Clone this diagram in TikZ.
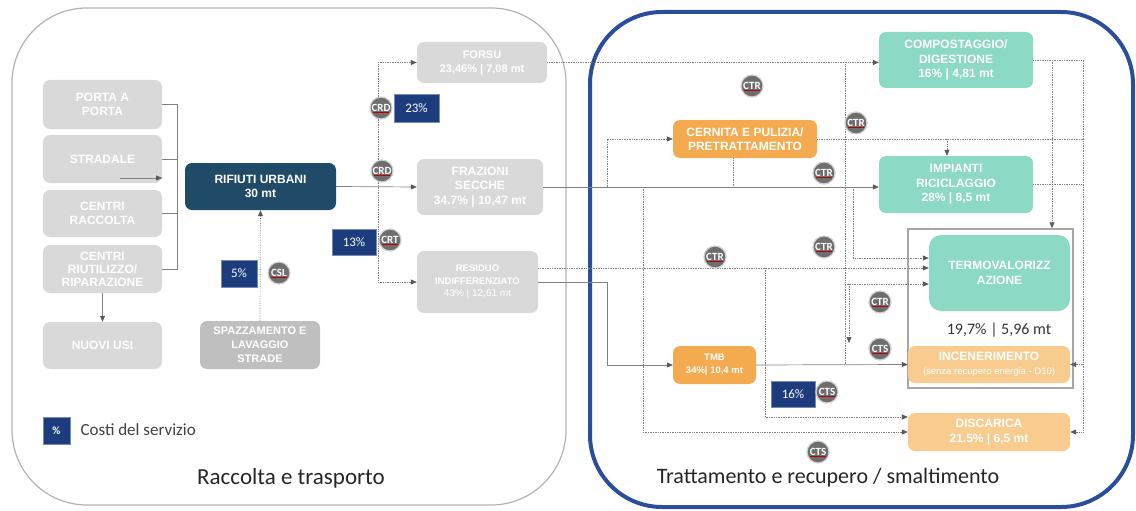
\documentclass[tikz,border=0pt]{standalone}
\usepackage{fontspec}
\setmainfont{Liberation Sans}
\newfontfamily\calib{Carlito}
\usetikzlibrary{arrows.meta}
\definecolor{boxgray}{RGB}{217,217,217}
\definecolor{boxdark}{RGB}{191,191,191}
\definecolor{urbani}{RGB}{31,74,104}
\definecolor{costo}{RGB}{28,60,125}
\definecolor{tagfill}{RGB}{110,110,110}
\definecolor{menta}{RGB}{140,217,197}
\definecolor{arancio}{RGB}{244,170,78}
\definecolor{pesca}{RGB}{248,203,142}
\definecolor{cornice}{RGB}{43,78,154}
\definecolor{filo}{RGB}{128,128,128}

\begin{document}
\begin{tikzpicture}[x=1pt,y=-1pt,
  blocco/.style={rounded corners=7pt, text=white, align=center, inner sep=0pt, font=\bfseries\fontsize{12}{14.5}\selectfont},
  pct/.style={fill=costo, draw=costo!60, text=white, inner sep=0pt, font=\calib\fontsize{13}{13}\selectfont},
  sigla/.style={circle, fill=tagfill, draw=gray!35, line width=1.2pt, minimum size=22pt, inner sep=0pt, text=white, font=\calib\bfseries\fontsize{11}{11}\selectfont,
    path picture={\draw[red!75!black, line width=0.7pt] ([xshift=-8pt,yshift=-4.5pt]path picture bounding box.center) -- ++(16pt,0pt);}},
  flow/.style={filo, densely dotted, line width=0.7pt},
  link/.style={filo, line width=0.7pt},
  arrowed/.style={-{Triangle[length=6pt,width=5pt,color=black!65]}}]

\useasboundingbox (0,0) rectangle (1136,511);
\draw[gray!60, line width=1.2pt, rounded corners=75pt] (12,8) rectangle (566,505);
\draw[cornice, line width=4pt, rounded corners=72pt] (590,12) rectangle (1133,507);

\node[blocco, fill=boxgray, minimum width=119pt, minimum height=49pt] (porta) at (102.5,104.5) {PORTA A\\PORTA};
\node[blocco, fill=boxgray, minimum width=119pt, minimum height=48pt] (stradale) at (102.5,159) {STRADALE};
\node[blocco, fill=boxgray, minimum width=119pt, minimum height=47pt] (raccolta) at (102.5,213.5) {CENTRI\\RACCOLTA};
\node[blocco, fill=boxgray, minimum width=119pt, minimum height=48pt, font=\bfseries\fontsize{12}{13}\selectfont] (riutilizzo) at (102.5,269) {CENTRI\\RIUTILIZZO/\\RIPARAZIONE};
\node[blocco, fill=boxgray, minimum width=119pt, minimum height=47pt] (nuovi) at (102.5,345.5) {NUOVI USI};
\node[blocco, fill=urbani, minimum width=151pt, minimum height=47pt] (urbani) at (260.5,186.5) {RIFIUTI URBANI\\30 mt};
\node[blocco, fill=boxdark, minimum width=120pt, minimum height=48pt, font=\bfseries\fontsize{11}{14}\selectfont] (spazzamento) at (260,345) {SPAZZAMENTO E\\LAVAGGIO\\STRADE};
\node[blocco, fill=boxgray, minimum width=130pt, minimum height=41pt, font=\bfseries\fontsize{11}{14}\selectfont] (forsu) at (482,62.5) {FORSU\\23,46\% | 7,08 mt};
\node[blocco, fill=boxgray, minimum width=126pt, minimum height=56pt] (secche) at (480,187) {FRAZIONI\\SECCHE\\34.7\% | 10,47 mt};
\node[blocco, fill=boxgray, minimum width=121pt, minimum height=62pt, font=\bfseries\fontsize{9.5}{12.5}\selectfont] (residuo) at (477.5,282) {RESIDUO\\INDIFFERENZIATO\\{\mdseries\fontsize{10}{12.5}\selectfont 43\% | 12,61 mt}};

\node[draw=gray!70, line width=1.5pt, minimum width=165pt, minimum height=159pt, inner sep=0pt] (gruppo) at (990.5,308.5) {};
\node[blocco, fill=menta, minimum width=154pt, minimum height=56pt] (compostaggio) at (956,60) {COMPOSTAGGIO/\\DIGESTIONE\\16\% | 4,81 mt};
\node[blocco, fill=menta, minimum width=154pt, minimum height=57pt] (riciclaggio) at (956,184.5) {IMPIANTI\\RICICLAGGIO\\28\% | 8,5 mt};
\node[blocco, fill=menta, rounded corners=12pt, minimum width=141pt, minimum height=76pt] (termo) at (999.5,273) {TERMOVALORIZZ\\AZIONE};
\node[font=\calib\fontsize{16}{16}\selectfont, text=black!80] (quota) at (999,330) {19,7\% | 5,96 mt};
\node[blocco, fill=pesca, minimum width=162pt, minimum height=37pt] (incenerimento) at (989,364.5) {INCENERIMENTO\\{\mdseries\fontsize{9.5}{11}\selectfont (senza recupero energia - D10)}};
\node[blocco, fill=pesca, minimum width=162pt, minimum height=38pt] (discarica) at (989,432) {DISCARICA\\21.5\% | 6,5 mt};
\node[blocco, fill=arancio, minimum width=144pt, minimum height=38pt] (cernita) at (745,139) {CERNITA E PULIZIA/\\PRETRATTAMENTO};
\node[blocco, fill=arancio, minimum width=83pt, minimum height=38pt, font=\bfseries\fontsize{9.5}{12.5}\selectfont] (tmb) at (714.5,365) {TMB\\34\%| 10,4 mt};

\coordinate (kx) at (177,0);
\coordinate (bx) at (378,0);
\coordinate (cx) at (607,0);
\coordinate (dx) at (643,0);
\coordinate (ex) at (765,0);
\coordinate (fx) at (845,0);
\coordinate (gx) at (849,0);
\coordinate (hx) at (853,0);
\coordinate (ix) at (947,0);
\coordinate (jx) at (1052,0);
\coordinate (lx) at (1083,0);
\coordinate (r1) at ([yshift=14pt]residuo.east);
\coordinate (d1) at ([yshift=15pt]discarica.west);
\coordinate (t1) at ([yshift=15pt]termo.west);
\coordinate (t3) at ([yshift=-11pt]termo.west);
\coordinate (g1) at (849,343);

\draw[link] (porta.east) -- (porta.east -| kx) -- (riutilizzo.east -| kx) -- (riutilizzo.east);
\draw[link] (stradale.east) -- (stradale.east -| kx);
\draw[link] (raccolta.east) -- (raccolta.east -| kx);
\draw[link, arrowed] ([xshift=-42pt,yshift=-19pt]stradale.east) -- ([yshift=-19pt]stradale.east);
\draw[link, arrowed] (riutilizzo.south) -- (nuovi.north);
\draw[flow, arrowed] (spazzamento.north) -- (urbani.south);

\draw[link, arrowed] (urbani.east) -- (secche.west);
\draw[flow] (bx |- forsu.west) -- (bx |- residuo.west);
\draw[flow, arrowed] (bx |- forsu.west) -- (forsu.west);
\draw[flow, arrowed] (bx |- residuo.west) -- (residuo.west);

\draw[flow, arrowed] (forsu.east) -- (forsu.east -| compostaggio.west);
\draw[flow] (fx |- forsu.east) -- (fx |- tmb.east);
\draw[link, arrowed] (secche.east) -- (secche.east -| riciclaggio.west);
\draw[flow, arrowed] (cx |- secche.east) -- (cx |- cernita.west) -- (cernita.west);
\draw[flow] ([xshift=-12pt]cernita.south) -- ([xshift=-12pt]cernita.south |- secche.east);
\draw[flow] (cernita.east) -- (cernita.east -| lx);
\draw[flow, arrowed] (ix |- cernita.east) -- (ix |- riciclaggio.north);
\draw[flow, arrowed] (compostaggio.east) -- (compostaggio.east -| lx) -- (lx |- discarica.east) -- (discarica.east);
\draw[flow, arrowed] (lx |- incenerimento.east) -- (incenerimento.east);
\draw[flow, arrowed] (jx |- compostaggio.east) -- (jx |- gruppo.north);
\draw[flow] (riciclaggio.east) -- (riciclaggio.east -| lx);
\draw[flow, arrowed] (dx |- secche.east) -- (dx |- discarica.west) -- (discarica.west);
\draw[flow, arrowed] (r1) -- (r1 -| termo.west);
\draw[flow, arrowed] (r1 -| ex) -- (ex |- d1) -- (d1);
\draw[link, arrowed] (residuo.east) -- (cx |- residuo.east) -- (cx |- tmb.west) -- (tmb.west);
\draw[link, arrowed] (tmb.east) -- (incenerimento.west);
\draw[flow, arrowed] (fx |- t3) -- (t3);
\draw[flow, arrowed] (gx |- t3) -- (g1);
\draw[flow, arrowed] (hx |- secche.east) -- (hx |- t1) -- (t1);

\node[pct, minimum width=45pt, minimum height=28pt] (c23) at (416.5,108) {23\%};
\node[pct, minimum width=44pt, minimum height=26pt] (c13) at (354,242) {13\%};
\node[pct, minimum width=36pt, minimum height=27pt] (c5) at (239,273.5) {5\%};
\node[pct, minimum width=44pt, minimum height=26pt] (c16) at (793,394) {16\%};
\node[pct, minimum width=27pt, minimum height=27pt, font=\calib\bfseries\fontsize{11}{11}\selectfont] (legenda) at (56.5,430.5) {\%};
\node[anchor=west, text=black!75, font=\calib\fontsize{17}{17}\selectfont] (costi) at (77,430) {Costi del servizio};

\node[sigla] (crd1) at (381,108) {CRD};
\node[sigla] (crd2) at (382,171) {CRD};
\node[sigla] (crt) at (390,240) {CRT};
\node[sigla] (csl) at (279,273) {CSL};
\node[sigla] (ctr1) at (752,86) {CTR};
\node[sigla] (ctr2) at (856,123) {CTR};
\node[sigla] (ctr3) at (824,173) {CTR};
\node[sigla] (ctr4) at (715,257) {CTR};
\node[sigla] (ctr5) at (824,247) {CTR};
\node[sigla] (ctr6) at (880,302) {CTR};
\node[sigla] (cts1) at (880,349) {CTS};
\node[sigla] (cts2) at (827,392) {CTS};
\node[sigla] (cts3) at (818,452) {CTS};

\node[font=\calib\fontsize{23}{23}\selectfont, text=black!85] (titolo1) at (291,478) {Raccolta e trasporto};
\node[font=\calib\fontsize{22}{22}\selectfont, text=black!85] (titolo2) at (828,478) {Trattamento e recupero / smaltimento};
\end{tikzpicture}
\end{document}
